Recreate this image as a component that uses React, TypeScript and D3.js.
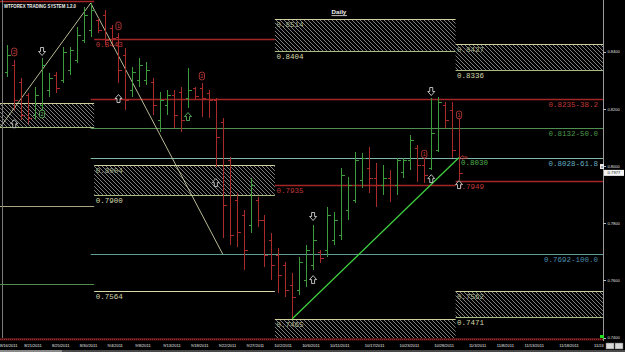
import React from 'react';
import * as d3 from 'd3';

const W = 625;
const H = 352;

// Daily OHLC bars (index 0 = 8/17/2011)
const barOpen = [0.8329,0.8353,0.8294,0.8249,0.8179,0.8214,0.8266,0.8319,0.8301,0.8336,0.8371,0.8441,0.8476,0.8511,0.8528,0.8483,0.8451,0.8388,0.8266,0.8301,0.8301,0.8294,0.8161,0.8214,0.8249,0.8259,0.8238,0.8273,0.8273,0.8256,0.8231,0.8154,0.8021,0.7881,0.7829,0.7794,0.7881,0.7812,0.7742,0.7689,0.7654,0.7584,0.7567,0.7602,0.7654,0.7700,0.7707,0.7742,0.7759,0.7846,0.7881,0.7951,0.7993,0.7958,0.7934,0.7958,0.7934,0.7979,0.8021,0.8063,0.8004,0.7993,0.8056,0.8214,0.8196,0.8168];
const barHigh = [0.8423,0.8371,0.8308,0.8256,0.8277,0.8378,0.8326,0.8329,0.8416,0.8416,0.8486,0.8556,0.8570,0.8518,0.8546,0.8493,0.8465,0.8413,0.8346,0.8378,0.8364,0.8308,0.8259,0.8266,0.8266,0.8277,0.8343,0.8277,0.8291,0.8266,0.8238,0.8168,0.8032,0.7906,0.7846,0.7958,0.7892,0.7829,0.7766,0.7714,0.7665,0.7626,0.7682,0.7724,0.7794,0.7707,0.7857,0.7839,0.7993,0.7962,0.8049,0.8046,0.8067,0.8011,0.8004,0.7986,0.8028,0.8028,0.8109,0.8074,0.8028,0.8238,0.8242,0.8224,0.8224,0.8189];
const barLow = [0.8312,0.8196,0.8161,0.8147,0.8161,0.8186,0.8242,0.8256,0.8291,0.8319,0.8360,0.8430,0.8451,0.8465,0.8423,0.8434,0.8291,0.8196,0.8242,0.8277,0.8284,0.8179,0.8119,0.8179,0.8133,0.8119,0.8203,0.8231,0.8172,0.8168,0.7997,0.7749,0.7724,0.7717,0.7637,0.7766,0.7787,0.7647,0.7602,0.7556,0.7542,0.7466,0.7549,0.7577,0.7637,0.7661,0.7682,0.7724,0.7742,0.7812,0.7871,0.7923,0.7906,0.7857,0.7899,0.7874,0.7899,0.7958,0.7986,0.7944,0.7941,0.7986,0.8049,0.8133,0.8028,0.7951];
const barClose = [0.8388,0.8231,0.8179,0.8168,0.8249,0.8353,0.8308,0.8273,0.8399,0.8406,0.8458,0.8528,0.8546,0.8476,0.8441,0.8448,0.8336,0.8231,0.8329,0.8353,0.8336,0.8214,0.8231,0.8249,0.8179,0.8161,0.8266,0.8245,0.8238,0.8231,0.8102,0.7864,0.7759,0.7770,0.7707,0.7934,0.7812,0.7689,0.7654,0.7619,0.7567,0.7542,0.7665,0.7707,0.7742,0.7679,0.7829,0.7812,0.7969,0.7934,0.8021,0.8028,0.7958,0.7934,0.7958,0.7934,0.8021,0.8021,0.8091,0.8004,0.7969,0.8116,0.8224,0.8161,0.8056,0.7977];

// Date axis
const tickIndex = [-1,3,7,11,15,19,23,27,31,35,39,43,47,52,57,62,67,71,75,80,85];
const tickLabels = ["8/16/2011","8/21/2011","8/25/2011","8/30/2011","9/4/2011","9/8/2011","9/13/2011","9/18/2011","9/22/2011","9/27/2011","10/2/2011","10/6/2011","10/11/2011","10/17/2011","10/23/2011","10/28/2011","11/3/2011","11/8/2011","11/13/2011","11/18/2011","11/24"];

// Price axis
const priceTicks = [0.74, 0.76, 0.78, 0.80, 0.82, 0.84];
const lastPrice = 0.7977;

// Monthly periods (bar-index boundaries)
const periodStart = [-14, 12.5, 38.5, 64.5];
const periodEnd = [12.5, 38.5, 64.5, 90];

// Hatched monthly zones
const zonePeriod = [0, 1, 2, 2, 3, 3];
const zoneTop = [0.8220, 0.8004, 0.8514, 0.7465, 0.8427, 0.7562];
const zoneBottom = [0.8136, 0.7900, 0.8404, 0.7355, 0.8336, 0.7471];

// Monthly single levels
const levelPeriod = [0, 0, 0, 1, 1, 2, 3];
const levelPrice = [0.8578, 0.7860, 0.7588, 0.8443, 0.7564, 0.7935, 0.7949];
const levelKind = ["red", "tan", "green", "red", "yellow", "red", "red"];
const levelLabel = ["", "", "", "0.8443", "0.7564", "0.7935", "0.7949"];

// Fibonacci retracement from the swing high
const fibStartIndex = 12;
const fibPrice = [0.8235, 0.8132, 0.8028, 0.7692];
const fibLabel = ["0.8235-38.2", "0.8132-50.0", "0.8028-61.8", "0.7692-100.0"];
const fibKind = ["red", "green", "teal", "teal2"];

// Trend lines
const swingIdx = [-1.05, 12, 31];
const swingPrice = [0.8135, 0.8570, 0.7692];
const trendIdx = [41, 65];
const trendPrice = [0.7466, 0.8030];

// Signal markers
const markIdx = [1, 5, 1, 5, 16, 16, 26, 28, 30, 44, 44, 60, 61, 61, 65, 65];
const markPrice = [0.8399, 0.8399, 0.8150, 0.8182, 0.8490, 0.8238, 0.8175, 0.8315, 0.7944, 0.7822, 0.7605, 0.8042, 0.7958, 0.8259, 0.8179, 0.7937];
const markDir = ["down","down","up","up","down","up","up","down","up","down","up","down","up","down","down","up"];
const markColor = ["red","white","white","green","red","white","green","red","white","white","white","red","white","white","red","white"];
const markNum = ["2","","","2","1","","","2","","","","1","","","1",""];

const COL: Record<string, string> = {
  red: '#a32626',
  tan: '#a8a484',
  green: '#4f8f4f',
  yellow: '#d8d8a8',
  teal: '#7fb8aa',
  teal2: '#5f9f98',
  white: '#e8e8e8',
};
const LABEL_COL: Record<string, string> = {
  red: '#c03838',
  green: '#4a9a4a',
  teal: '#66aec2',
  teal2: '#4a8eac',
  yellow: '#d0d0a8',
};

const PLOT_R = 603;
const PLOT_B = 338;
const MONO = '"Liberation Mono", "DejaVu Sans Mono", monospace';
const SANS = '"Liberation Sans", Arial, sans-serif';

export default function App() {
  const x = d3.scaleLinear().domain([0, 85]).range([7.3, 598.05]);
  const y = d3.scaleLinear().domain([0.74, 0.84]).range([337.7, 51.7]);
  const cx = (i: number) => Math.round(x(i)) + 0.5;
  const cy = (v: number) => Math.round(y(v)) + 0.5;

  const line = d3.line<[number, number]>().x(d => x(d[0])).y(d => y(d[1]));
  const swingPath = line(swingIdx.map((i, k) => [i, swingPrice[k]] as [number, number])) || '';
  const trendPath = line(trendIdx.map((i, k) => [i, trendPrice[k]] as [number, number])) || '';

  const arrowDown = 'M-1.5,-4.5 h3 v4 h2 l-3.5,4 l-3.5,-4 h2 z';
  const arrowUp = 'M-1.5,4.5 h3 v-4 h2 l-3.5,-4 l-3.5,4 h2 z';

  const trendEndX = x(trendIdx[1]);
  const trendEndY = y(trendPrice[1]);

  return (
    <div style={{ position: 'fixed', left: 0, top: 0, width: W, height: H, background: '#000' }}>
      <svg width={W} height={H} style={{ display: 'block', background: '#000' }}>
        <defs>
          <pattern id="hatch" patternUnits="userSpaceOnUse" width="4" height="4">
            <rect width="4" height="4" fill="#000" />
            <path d="M-1,-1 L5,5 M-1,3 L1,5 M3,-1 L5,1" stroke="#8c8c8c" strokeWidth="0.9" />
          </pattern>
          <clipPath id="plot">
            <rect x="0" y="0" width={PLOT_R} height={PLOT_B} />
          </clipPath>
        </defs>

        <g clipPath="url(#plot)">
          {/* hatched zones */}
          {zoneTop.map((t, k) => {
            const p = zonePeriod[k];
            const x0 = x(periodStart[p]);
            const x1 = x(periodEnd[p]);
            const yt = cy(t);
            const yb = cy(zoneBottom[k]);
            const showLabels = x0 >= 0;
            return (
              <g key={'z' + k}>
                <rect x={x0} y={yt} width={x1 - x0} height={yb - yt} fill="url(#hatch)" />
                <line x1={x0} x2={x1} y1={yt} y2={yt} stroke="#cfd09c" strokeWidth={1} />
                <line x1={x0} x2={x1} y1={yb} y2={yb} stroke="#a4bc80" strokeWidth={1} />
                {showLabels && <text x={x0 + 1.5} y={yt + 7} fill="#a8b48c" fontSize={7.5} fontFamily={MONO}>{t.toFixed(4)}</text>}
                {showLabels && yb + 8 < PLOT_B && <text x={x0 + 1.5} y={yb + 7.5} fill="#d4d8a8" fontSize={7.5} fontFamily={MONO}>{zoneBottom[k].toFixed(4)}</text>}
              </g>
            );
          })}

          {/* monthly levels */}
          {levelPrice.map((v, k) => {
            const p = levelPeriod[k];
            const x0 = x(periodStart[p]);
            const x1 = x(periodEnd[p]);
            const yy = cy(v);
            const kind = levelKind[k];
            return (
              <g key={'l' + k}>
                <line x1={x0} x2={x1} y1={yy} y2={yy} stroke={COL[kind]} strokeWidth={kind === 'red' ? 1.6 : 1} />
                {levelLabel[k] && (
                  <text x={x0 + 1.5} y={yy + 7.5} fill={LABEL_COL[kind] || '#ccc'} fontSize={7.5} fontFamily={MONO}>{levelLabel[k]}</text>
                )}
              </g>
            );
          })}

          {/* fib levels */}
          {fibPrice.map((v, k) => {
            const yy = cy(v);
            const kind = fibKind[k];
            return (
              <g key={'f' + k}>
                <line x1={x(fibStartIndex)} x2={PLOT_R} y1={yy} y2={yy} stroke={COL[kind]} strokeWidth={kind === 'red' ? 1.6 : 1} />
                <text x={598} y={yy + 7} textAnchor="end" fill={LABEL_COL[kind]} fontSize={7.5} fontFamily={MONO}>{fibLabel[k]}</text>
              </g>
            );
          })}

          {/* swing lines */}
          <path d={swingPath} fill="none" stroke="#cfcfa6" strokeWidth={0.9} />

          {/* bars */}
          {barOpen.map((o, i) => {
            const c = barClose[i];
            const col = c >= o ? '#3c9c3c' : '#a82a2a';
            const xx = cx(i);
            return (
              <g key={'b' + i} stroke={col} strokeWidth={1} shapeRendering="crispEdges">
                <line x1={xx} x2={xx} y1={Math.round(y(barHigh[i]))} y2={Math.round(y(barLow[i]))} />
                <line x1={xx - 3} x2={xx} y1={cy(o)} y2={cy(o)} />
                <line x1={xx} x2={xx + 3} y1={cy(c)} y2={cy(c)} />
              </g>
            );
          })}

          {/* trend line */}
          <path d={trendPath} fill="none" stroke="#3fcf3f" strokeWidth={1.3} />
          <text x={trendEndX + 2} y={trendEndY + 7.5} fill="#4fb04f" fontSize={7.5} fontFamily={MONO}>{trendPrice[1].toFixed(4)}</text>
          <path d={`M${trendEndX + 1},${trendEndY} l3,-2 v1.3 h4 v1.4 h-4 v1.3 z`} fill="none" stroke="#c83a3a" strokeWidth={0.7} />

          {/* markers */}
          {markIdx.map((i, k) => {
            const xx = x(i);
            const yy = y(markPrice[k]);
            const stroke = markColor[k] === 'red' ? '#d04040' : markColor[k] === 'green' ? '#6cc86c' : '#e8e8e8';
            if (markNum[k]) {
              return (
                <g key={'m' + k} transform={`translate(${xx},${yy})`}>
                  <rect x={-2.6} y={-3.8} width={5.2} height={7.6} rx={2} fill="#000" stroke={stroke} strokeWidth={0.8} />
                  <text x={0} y={2.2} textAnchor="middle" fontSize={5.5} fontFamily={SANS} fill={stroke}>{markNum[k]}</text>
                </g>
              );
            }
            return (
              <path key={'m' + k} transform={`translate(${xx},${yy})`} d={markDir[k] === 'down' ? arrowDown : arrowUp} fill="#000" stroke={stroke} strokeWidth={0.8} />
            );
          })}
        </g>

        {/* frame */}
        <line x1={2.5} x2={2.5} y1={0} y2={PLOT_B} stroke="#7a7a7a" strokeWidth={1} />
        <line x1={PLOT_R + 0.5} x2={PLOT_R + 0.5} y1={0} y2={PLOT_B + 3} stroke="#9a9a9a" strokeWidth={1} />

        {/* title */}
        <text x={4} y={7.6} fill="#f0f0f0" fontSize={5.6} fontWeight="bold" fontFamily={SANS} textLength={72} lengthAdjust="spacingAndGlyphs">WTFOREX TRADING SYSTEM 1.2.0</text>
        <text x={331.5} y={14.2} fill="#f0f0f0" fontSize={6.2} fontWeight="bold" fontFamily={SANS}>Daily</text>
        <line x1={331.5} x2={347} y1={15.6} y2={15.6} stroke="#f0f0f0" strokeWidth={0.8} />

        {/* right price axis */}
        {priceTicks.map((v, k) => (
          <g key={'pt' + k}>
            <line x1={PLOT_R} x2={PLOT_R + 3} y1={cy(v)} y2={cy(v)} stroke="#bbb" strokeWidth={1} />
            <text x={607.5} y={y(v) + 1.6} fill="#e0e0e0" fontSize={4} fontFamily={SANS}>{v.toFixed(4)}</text>
          </g>
        ))}
        <rect x={600} y={164} width={4} height={5} fill="#e8e8e8" />
        <text x={602} y={168} textAnchor="middle" fontSize={4} fontFamily={SANS} fill="#000">x</text>
        <rect x={604} y={y(lastPrice) - 2.8} width={20} height={6} fill="#f4f4f4" />
        <text x={614} y={y(lastPrice) + 1.6} textAnchor="middle" fontSize={4.2} fontFamily={SANS} fill="#222">{lastPrice.toFixed(4)}</text>
        <rect x={600} y={335} width={4} height={4} fill="#22dd22" />

        {/* bottom date axis */}
        <rect x={0} y={338} width={PLOT_R} height={2.6} fill="#4a0e0e" />
        <line x1={0} x2={PLOT_R} y1={339.3} y2={339.3} stroke="#c04848" strokeWidth={0.8} strokeDasharray="1 1" />
        {tickIndex.map((i, k) => (
          <text key={'dt' + k} x={Math.max(0, x(i) - 4)} y={347.4} fill="#e8e8e8" fontSize={4} fontFamily={SANS}>{tickLabels[k]}</text>
        ))}
        <rect x={0} y={350} width={W} height={2} fill="#4a4a4a" />
        <rect x={0} y={350} width={62} height={2} fill="#8a8a8a" />
        <rect x={606} y={343} width={8} height={6} fill="#d8d8d8" stroke="#666" strokeWidth={0.5} />
        <rect x={615} y={343} width={8} height={6} fill="#d8d8d8" stroke="#666" strokeWidth={0.5} />
      </svg>
    </div>
  );
}
